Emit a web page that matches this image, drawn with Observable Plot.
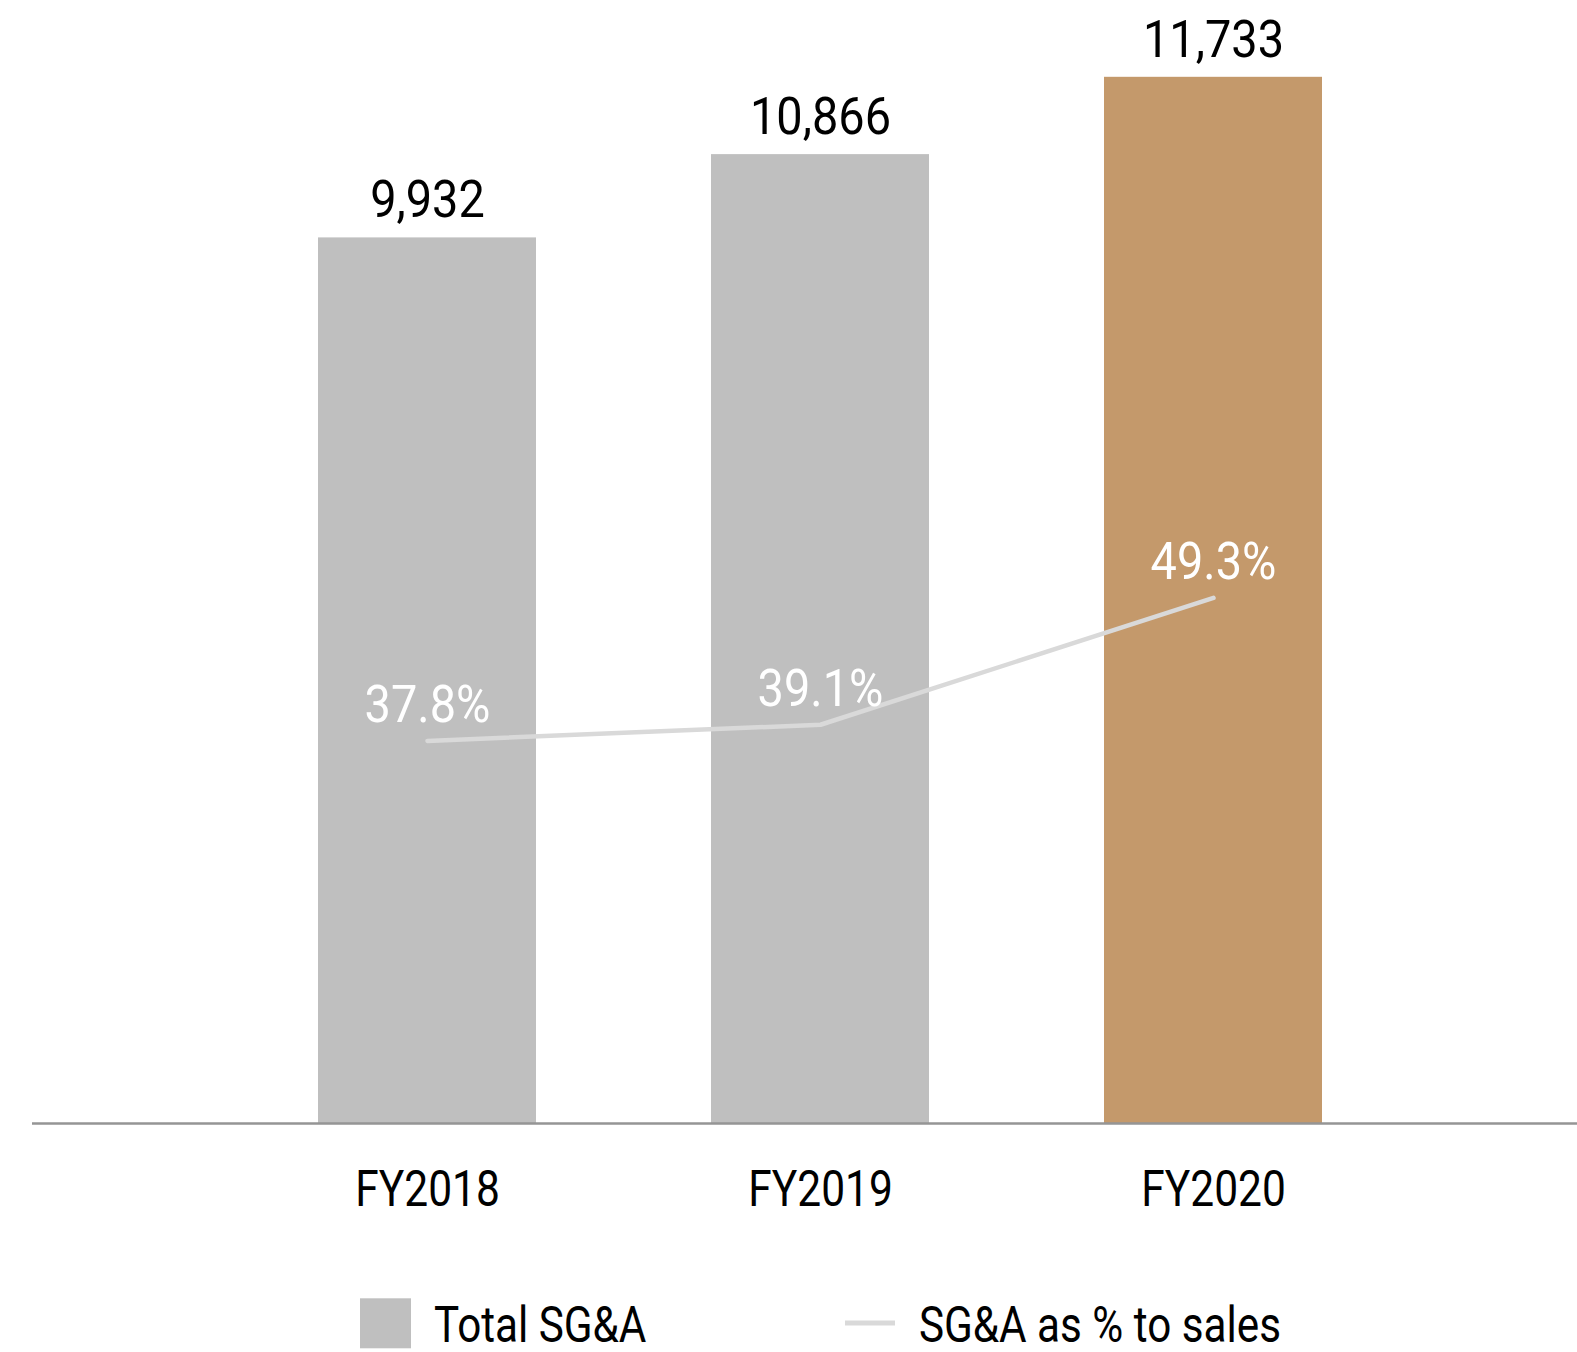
<!DOCTYPE html>
<html><head><meta charset="utf-8">
<script src="https://cdn.jsdelivr.net/npm/d3@7"></script>
<script src="https://cdn.jsdelivr.net/npm/@observablehq/plot@0.6"></script>
<style>
body{margin:0;background:#fff;font-family:Roboto,sans-serif;}
#chart svg{display:block;overflow:visible;}
#legend{display:block;}
</style></head><body>
<div id="chart"></div>
<svg id="legend" width="1577" height="92"></svg>
<script>
const years = ["FY2018", "FY2019", "FY2020"];
const sgaTotal = [9932, 10866, 11733];
const sgaPct = [37.8, 39.1, 49.3];
const barColors = ["#bfbfbf", "#bfbfbf", "#c4996b"];
const seriesNames = ["Total SG&A", "SG&A as % to sales"];
const legendColors = ["#bfbfbf", "#d9d9d9"];
const yDomain = [0, 12000];
const pctAxisDomain = [7.04, 93.07]; // secondary (percent) axis extent

const W = 1577, H = 1262, baseY = 1123;
const pctToY = d3.scaleLinear().domain(pctAxisDomain).range(yDomain);
const rows = years.map((year, i) => ({year, total: sgaTotal[i], pct: sgaPct[i], pctY: pctToY(sgaPct[i]), color: barColors[i]}));

const chart = Plot.plot({
  width: W, height: H,
  marginTop: 53, marginBottom: H - baseY, marginLeft: 32, marginRight: 0,
  x: {domain: years, range: [229.3, 1410.6], paddingInner: 0.4443, paddingOuter: 0.2221, axis: null},
  y: {domain: yDomain, axis: null},
  color: {type: "identity"},
  style: {fontFamily: "Roboto, sans-serif", fontSize: "50px", background: "#fff", overflow: "visible"},
  marks: [
    Plot.barY(rows, {x: "year", y: "total", fill: "color"}),
    Plot.ruleY([0], {stroke: "#959595", strokeWidth: 2.3}),
    Plot.line(rows, {x: "year", y: "pctY", stroke: "#d9d9d9", strokeWidth: 4.5}),
    Plot.text(rows, {x: "year", y: "total", text: d => d3.format(",")(d.total), lineAnchor: "bottom", dy: -20.5, fill: "#000", fontSize: 51, className: "num"}),
    Plot.text(rows, {x: "year", y: "pctY", text: d => d.pct.toFixed(1) + "%", lineAnchor: "bottom", dy: -19, fill: "#fff", fontSize: 51, className: "num"}),
    Plot.text(years, {x: d => d, frameAnchor: "bottom", lineAnchor: "top", dy: 47, fill: "#000", fontSize: 50, className: "tick"})
  ]
});
document.getElementById("chart").appendChild(chart);

function condense(el, s) {
  const t = el.getAttribute("transform");
  if (t && t.includes("translate")) {
    el.setAttribute("transform", t + ` scale(${s},1)`);
  } else {
    const x = +(el.getAttribute("x") || 0);
    el.setAttribute("transform", `translate(${x},0) scale(${s},1) translate(${-x},0)` + (t ? " " + t : ""));
  }
}
chart.querySelectorAll("g.num text").forEach(el => condense(el, 0.92));
chart.querySelectorAll("g.tick text").forEach(el => condense(el, 0.85));

// legend
const lg = d3.select("#legend");
const top0 = H; // legend svg starts where the chart ends
lg.append("rect").attr("x", 360).attr("y", 1298.3 - top0).attr("width", 51).attr("height", 50).attr("fill", legendColors[0]);
lg.append("line").attr("x1", 845).attr("x2", 895).attr("y1", 1323 - top0).attr("y2", 1323 - top0).attr("stroke", legendColors[1]).attr("stroke-width", 5);
[[434, seriesNames[0]], [919, seriesNames[1]]].forEach(([x, label]) => {
  lg.append("text").attr("x", x).attr("y", 1342.5 - top0)
    .attr("font-family", "Roboto, sans-serif").attr("font-size", 50).attr("fill", "#000")
    .attr("transform", `translate(${x},0) scale(0.845,1) translate(${-x},0)`)
    .text(label);
});
</script>
</body></html>
